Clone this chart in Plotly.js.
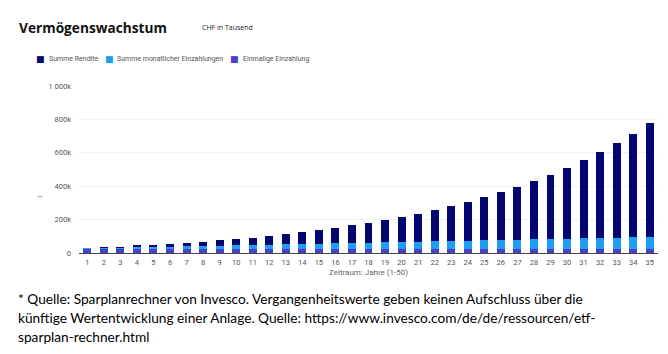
<!DOCTYPE html>
<html>
<head>
<meta charset="utf-8">
<script src="https://cdn.plot.ly/plotly-3.0.1.min.js"></script>
<style>
  html, body { margin: 0; padding: 0; background: #ffffff; }
  #chart { width: 668px; height: 354px; }
</style>
</head>
<body>
<div id="chart"></div>
<script>
// Years (categories)
const years = [1,2,3,4,5,6,7,8,9,10,11,12,13,14,15,16,17,18,19,20,21,22,23,24,25,26,27,28,29,30,31,32,33,34,35];

// Values in CHF thousands
const einmaligeEinzahlung = [25,25,25,25,25,25,25,25,25,25,25,25,25,25,25,25,25,25,25,25,25,25,25,25,25,25,25,25,25,25,25,25,25,25,25];
const monatlicheEinzahlungen = [2,4,6,8,10,12,14,16,18,20,22,24,26,28,30,32,34,36,38,40,42,44,46,48,50,52,54,56,58,60,62,64,66,68,70];
const summeRendite = [0,4,7,12,15,19,22,26,32,40,44,54,62,72,80,92,108,118,134,150,168,188,210,234,259,289,317,352,386,426,472,516,569,621,683];

// Y tick labels
const yTickVals = [0,200,400,600,800,1000];
const yTickText = ['0','200k','400k','600k','800k','1 000k'];

const seriesNames = ['Einmalige Einzahlung','Summe monatlicher Einzahlungen','Summe Rendite'];
const seriesColors = ['#4a40c6','#1e9df2','#03066e'];
const seriesValues = [einmaligeEinzahlung, monatlicheEinzahlungen, summeRendite];

// Footnote lines
const footnote = [
  '* Quelle: Sparplanrechner von Invesco. Vergangenheitswerte geben keinen Aufschluss über die',
  'künftige Wertentwicklung einer Anlage. Quelle: https://www.invesco.com/de/de/ressourcen/etf-',
  'sparplan-rechner.html'
];

const traces = seriesValues.map((vals, i) => ({
  type: 'bar',
  name: seriesNames[i],
  x: years,
  y: vals,
  marker: { color: seriesColors[i], line: { width: 0 } },
  hoverinfo: 'skip'
}));

// layout geometry helpers (pixel -> paper)
const W = 668, H = 354;
const M = { l: 79, r: 10, t: 86, b: 101 };
const PW = W - M.l - M.r, PH = H - M.t - M.b;
const px = x => (x - M.l) / PW;
const py = y => (H - M.b - y) / PH;

const tickFont = { family: 'Roboto, Arial, sans-serif', size: 7.5, color: '#555555' };

const annotations = [];
function addText(x, y, text, font, xanchor) {
  annotations.push({ xref: 'paper', yref: 'paper', x: px(x), y: py(y), xanchor: xanchor || 'left', yanchor: 'middle',
    showarrow: false, text: text, font: font });
}

addText(17, 27, '<b>Vermögenswachstum</b>', { family: 'Open Sans, Arial, sans-serif', size: 13.7, color: '#111111' });
addText(200, 28, 'CHF in Tausend', { family: 'Open Sans, Arial, sans-serif', size: 7, color: '#222222' });
addText(40, 197, '–', { family: 'Roboto, Arial, sans-serif', size: 9, color: '#777777' }, 'center');

// legend (reversed order: top of stack first)
const legendSquareX = [40, 109, 234];
const legendTextX = [47, 115, 241];
[2, 1, 0].forEach((si, k) => {
  addText(legendSquareX[k], 59, '■', { family: 'DejaVu Sans, sans-serif', size: 9, color: seriesColors[si] }, 'center');
  addText(legendTextX[k], 59, seriesNames[si], { family: 'Roboto, Arial, sans-serif', size: 7, color: '#555555' });
});

footnote.forEach((line, i) => {
  addText(16, 298 + i * 19, line, { family: 'Lato, Calibri, sans-serif', size: 13.7, color: '#000000' });
});

const layout = {
  width: W,
  height: H,
  paper_bgcolor: '#ffffff',
  plot_bgcolor: '#ffffff',
  barmode: 'stack',
  bargap: 0.52,
  margin: { l: M.l, r: M.r, t: M.t, b: M.b, pad: 0 },
  showlegend: false,
  xaxis: {
    type: 'category',
    tickvals: years,
    ticktext: years.map(String),
    range: [-0.5, 34.5],
    showgrid: false,
    zeroline: false,
    showline: true,
    linecolor: '#444444',
    linewidth: 1,
    ticks: '',
    ticklabelstandoff: 2,
    tickfont: tickFont,
    title: { text: 'Zeitraum: Jahre (1-50)', font: { family: 'Roboto, Arial, sans-serif', size: 8, color: '#666666' }, standoff: 3 }
  },
  yaxis: {
    range: [0, 1000],
    tickvals: yTickVals,
    ticktext: yTickText,
    showgrid: true,
    gridcolor: '#f0f0f0',
    gridwidth: 1,
    zeroline: false,
    showline: false,
    ticks: '',
    ticklabelstandoff: 7,
    tickfont: tickFont
  },
  annotations: annotations
};

Plotly.newPlot('chart', traces, layout, { displayModeBar: false, staticPlot: true });
</script>
</body>
</html>
